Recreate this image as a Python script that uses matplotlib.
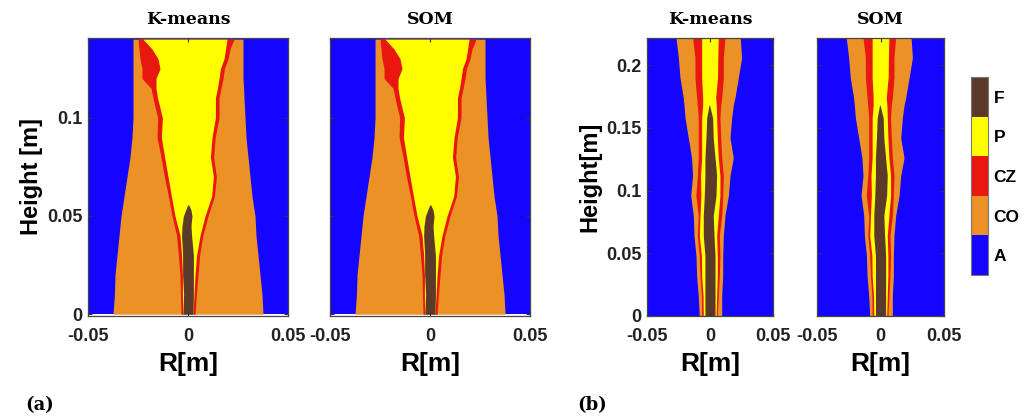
import numpy as np
import matplotlib
matplotlib.use("Agg")
import matplotlib.pyplot as plt
from matplotlib.colors import ListedColormap, BoundaryNorm
import matplotlib as mpl

# zone classes, bottom to top of the colour bar
zones = ["A", "CO", "CZ", "P", "F"]
zone_colors = ["#1405ff", "#ec9126", "#e8170f", "#ffff00", "#5b3a2a"]

# ---- case (a): boundaries of each zone, R [m] against height [m]
a_h = [0, 0.010, 0.020, 0.030, 0.040, 0.050, 0.060, 0.070, 0.080, 0.090,
       0.100, 0.110, 0.115, 0.120, 0.125, 0.130, 0.135, 0.140]
a_co_l = [-0.0375, -0.0368, -0.0365, -0.0355, -0.0345, -0.0335, -0.0320, -0.0305, -0.0290, -0.0280,
          -0.0275, -0.0275, -0.0275, -0.0275, -0.0275, -0.0275, -0.0275, -0.0275]
a_co_r = [0.0375, 0.0370, 0.0360, 0.0350, 0.0340, 0.0335, 0.0320, 0.0310, 0.0300, 0.0290,
          0.0285, 0.0280, 0.0278, 0.0275, 0.0275, 0.0275, 0.0275, 0.0275]
a_cz_l = [-0.0035, -0.0038, -0.0040, -0.0048, -0.0057, -0.0080, -0.0098, -0.0118, -0.0135, -0.0155,
          -0.0152, -0.0175, -0.0185, -0.0230, -0.0230, -0.0240, -0.0245, -0.0250]
a_cz_r = [0.0035, 0.0042, 0.0050, 0.0058, 0.0074, 0.0100, 0.0132, 0.0142, 0.0128, 0.0136,
          0.0155, 0.0155, 0.0165, 0.0175, 0.0182, 0.0200, 0.0210, 0.0230]
a_p_l = [-0.0025, -0.0028, -0.0028, -0.0032, -0.0040, -0.0065, -0.0083, -0.0100, -0.0117, -0.0133,
         -0.0128, -0.0152, -0.0160, -0.0160, -0.0140, -0.0150, -0.0180, -0.0225]
a_p_r = [0.0025, 0.0030, 0.0035, 0.0043, 0.0060, 0.0085, 0.0118, 0.0127, 0.0112, 0.0120,
         0.0137, 0.0137, 0.0147, 0.0155, 0.0162, 0.0180, 0.0188, 0.0195]
a_f_h = [0, 0.010, 0.020, 0.030, 0.040, 0.045, 0.050, 0.053, 0.0556]
a_f_l = [-0.0025, -0.0022, -0.0027, -0.0027, -0.0032, -0.0030, -0.0023, -0.0012, -0.0002]
a_f_r = [0.0025, 0.0027, 0.0027, 0.0027, 0.0018, 0.0015, 0.0020, 0.0015, 0.0004]

# ---- case (b)
b_h = [0, 0.016, 0.032, 0.048, 0.064, 0.080, 0.096, 0.112, 0.126, 0.142,
       0.158, 0.168, 0.174, 0.190, 0.206, 0.222]
b_co_l = [-0.0085, -0.0093, -0.0106, -0.0111, -0.0127, -0.0132, -0.0153, -0.0138, -0.0146, -0.0172,
          -0.0198, -0.0206, -0.0212, -0.0238, -0.0251, -0.0270]
b_co_r = [0.0093, 0.0093, 0.0101, 0.0101, 0.0106, 0.0119, 0.0146, 0.0159, 0.0185, 0.0159,
          0.0172, 0.0185, 0.0198, 0.0225, 0.0251, 0.0240]
b_cz_l = [-0.0066, -0.0068, -0.0079, -0.0085, -0.0100, -0.0093, -0.0112, -0.0100, -0.0093, -0.0093,
          -0.0093, -0.0101, -0.0106, -0.0119, -0.0119, -0.0138]
b_cz_r = [0.0058, 0.0066, 0.0074, 0.0079, 0.0074, 0.0093, 0.0101, 0.0106, 0.0093, 0.0085,
          0.0079, 0.0085, 0.0093, 0.0106, 0.0106, 0.0119]
b_p_l = [-0.0053, -0.0055, -0.0066, -0.0068, -0.0085, -0.0079, -0.0072, -0.0075, -0.0066, -0.0066,
         -0.0066, -0.0058, -0.0058, -0.0066, -0.0066, -0.0066]
b_p_r = [0.0048, 0.0053, 0.0058, 0.0058, 0.0053, 0.0066, 0.0079, 0.0079, 0.0066, 0.0058,
         0.0053, 0.0050, 0.0045, 0.0060, 0.0062, 0.0066]
b_f_h = [0, 0.016, 0.032, 0.048, 0.064, 0.080, 0.096, 0.112, 0.126, 0.142, 0.158, 0.168]
b_f_l = [-0.0040, -0.0040, -0.0040, -0.0040, -0.0053, -0.0053, -0.0045, -0.0040, -0.0040, -0.0032,
         -0.0026, -0.0008]
b_f_r = [0.0040, 0.0040, 0.0040, 0.0040, 0.0032, 0.0026, 0.0048, 0.0053, 0.0040, 0.0026,
         0.0021, -0.0003]

cases = {
    "a": dict(h=a_h, co=(a_co_l, a_co_r), cz=(a_cz_l, a_cz_r), p=(a_p_l, a_p_r),
              fh=a_f_h, f=(a_f_l, a_f_r), top=0.1406, bottom=-0.0009,
              yticks=[0, 0.05, 0.1], ylabels=["0", "0.05", "0.1"], ylab="Height [m]"),
    "b": dict(h=b_h, co=(b_co_l, b_co_r), cz=(b_cz_l, b_cz_r), p=(b_p_l, b_p_r),
              fh=b_f_h, f=(b_f_l, b_f_r), top=0.2216, bottom=0,
              yticks=[0, 0.05, 0.1, 0.15, 0.2], ylabels=["0", "0.05", "0.1", "0.15", "0.2"],
              ylab="Height[m]"),
}

xticks = [-0.05, 0, 0.05]
xlabels = ["-0.05", "0", "0.05"]

sans = "Liberation Sans"
serif = "DejaVu Serif"

fig = plt.figure(figsize=(10.33, 4.16), dpi=100)

# (left, width) in figure fraction
panels = [("a", "K-means", 0.0852, 0.1936, True),
          ("a", "SOM", 0.3195, 0.1936, False),
          ("b", "K-means", 0.6263, 0.1220, True),
          ("b", "SOM", 0.7909, 0.1230, False)]

for case, title, left, width, first in panels:
    c = cases[case]
    ax = fig.add_axes([left, 0.2404, width, 0.6683])
    h = c["h"]
    ax.fill_betweenx([0, c["top"]], -0.05, 0.05, color=zone_colors[0], lw=0)
    for key, col in [("co", 1), ("cz", 2), ("p", 3)]:
        ax.fill_betweenx(h, c[key][0], c[key][1], color=zone_colors[col], lw=0)
    ax.fill_betweenx(c["fh"], c["f"][0], c["f"][1], color=zone_colors[4], lw=0)
    ax.set_xlim(-0.05, 0.05)
    ax.set_ylim(c["bottom"], c["top"])
    ax.set_xticks(xticks)
    ax.set_xticklabels(xlabels, fontsize=13, fontweight="bold", family=sans)
    ax.set_yticks(c["yticks"])
    if first:
        ax.set_yticklabels(c["ylabels"], fontsize=13, fontweight="bold", family=sans)
        ax.set_ylabel(c["ylab"], fontsize=17, fontweight="bold", family=sans, labelpad=3)
    else:
        ax.set_yticklabels([])
    ax.tick_params(direction="in", top=True, right=True, length=3, width=0.8,
                   colors="#333333", labelcolor="#222222")
    ax.tick_params(axis="x", pad=9)
    ax.tick_params(axis="y", pad=4)
    for s in ax.spines.values():
        s.set_color("#444444")
        s.set_linewidth(0.9)
    ax.set_xlabel("R[m]", fontsize=19, fontweight="bold", family=sans, labelpad=5)
    ax.set_title(title, fontsize=12.5, fontweight="bold", family=serif, pad=10)

# discrete colour bar
cax = fig.add_axes([0.940, 0.339, 0.0165, 0.476])
cmap = ListedColormap(zone_colors)
norm = BoundaryNorm(np.arange(len(zones) + 1), cmap.N)
cb = mpl.colorbar.ColorbarBase(cax, cmap=cmap, norm=norm,
                               ticks=np.arange(len(zones)) + 0.5)
cb.minorticks_off()
cb.ax.set_yticklabels(zones, fontsize=12.5, fontweight="bold", family=sans)
cb.ax.tick_params(which="both", length=0, pad=4)
cb.outline.set_edgecolor("#777777")
cb.outline.set_linewidth(0.8)

fig.text(0.024, 0.026, "(a)", fontsize=13, fontweight="bold", family=serif, va="center")
fig.text(0.559, 0.026, "(b)", fontsize=13, fontweight="bold", family=serif, va="center")

fig.savefig("out.png", dpi=100)
